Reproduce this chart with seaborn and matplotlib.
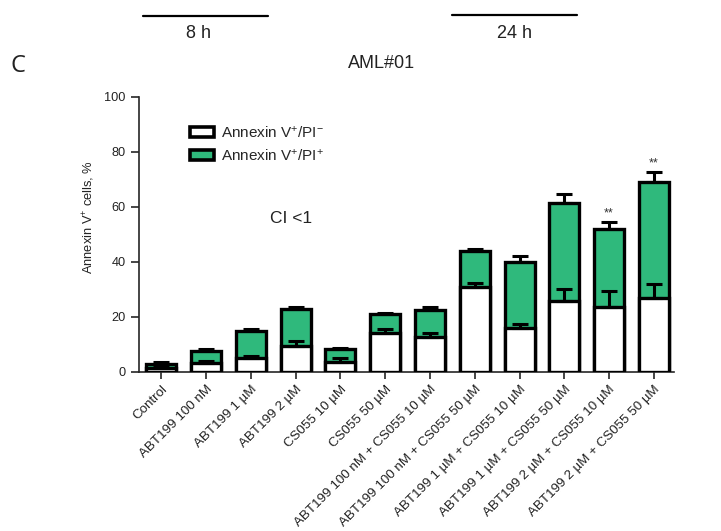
import numpy as np
import pandas as pd
import matplotlib
matplotlib.use('Agg')
import matplotlib.pyplot as plt
import seaborn as sns
from matplotlib.lines import Line2D
from matplotlib.patches import Patch

# data
groups = ['Control', 'ABT199 100 nM', 'ABT199 1 µM', 'ABT199 2 µM',
          'CS055 10 µM', 'CS055 50 µM',
          'ABT199 100 nM + CS055 10 µM', 'ABT199 100 nM + CS055 50 µM',
          'ABT199 1 µM + CS055 10 µM', 'ABT199 1 µM + CS055 50 µM',
          'ABT199 2 µM + CS055 10 µM', 'ABT199 2 µM + CS055 50 µM']
total = [2.9, 7.6, 14.9, 22.8, 8.2, 21.0, 22.5, 43.9, 39.8, 61.5, 51.9, 68.9]
total_err = [0.7, 0.6, 0.8, 0.7, 0.6, 0.6, 1.2, 0.9, 2.3, 3.0, 2.7, 3.7]
early = [1.6, 3.1, 5.0, 9.6, 3.5, 14.1, 12.8, 30.8, 15.9, 25.9, 23.7, 27.0]
early_err = [0.3, 0.9, 0.8, 1.5, 1.7, 1.6, 1.2, 1.4, 1.4, 4.1, 5.7, 5.1]
stars = ['', '', '', '', '', '', '', '', '', '', '**', '**']

green = '#2fb97c'
W, H = 721, 531

sns.set_style('ticks')
plt.rcParams['font.family'] = ['Liberation Sans', 'DejaVu Sans']
plt.rcParams['mathtext.fontset'] = 'custom'
plt.rcParams['mathtext.rm'] = 'Liberation Sans'
plt.rcParams['mathtext.it'] = 'Liberation Sans'

df = pd.DataFrame({'group': groups, 'total': total, 'early': early})

fig = plt.figure(figsize=(7.21, 5.31), dpi=100)
ax = fig.add_axes([139 / W, 1 - 372 / H, 535 / W, 275.3 / H])

x = np.arange(len(groups))
ax.errorbar(x, total, yerr=[np.zeros(len(x)), total_err], fmt='none',
            ecolor='black', elinewidth=2.2, capsize=5.6, capthick=2.2, zorder=1)
sns.barplot(data=df, x='group', y='total', color=green, saturation=1,
            edgecolor='black', linewidth=2.4, width=0.67, ax=ax, zorder=2)
sns.barplot(data=df, x='group', y='early', color='white', saturation=1,
            edgecolor='black', linewidth=2.4, width=0.67, ax=ax, zorder=3)
ax.errorbar(x, early, yerr=[np.zeros(len(x)), early_err], fmt='none',
            ecolor='black', elinewidth=2.2, capsize=5.6, capthick=2.2, zorder=4)

for i, s in enumerate(stars):
    if s:
        ax.text(i, total[i] + total_err[i] + 0.8, s, ha='center', va='bottom',
                fontsize=9, color='#333333')

ax.set_xlim(-0.5, 11.45)
ax.set_ylim(0, 100)
ax.set_yticks([0, 20, 40, 60, 80, 100])
ax.set_xlabel('')
ax.set_ylabel('Annexin V$^{+}$ cells, %', fontsize=9.3, color='#222222')
ax.yaxis.set_label_coords(-0.079, 0.563)
ax.set_xticks(x)
ax.set_xticklabels(groups, rotation=45, ha='right', rotation_mode='anchor',
                   fontsize=9.6, color='#222222')
ax.tick_params(axis='y', labelsize=9.2, labelcolor='#222222', length=5.8, width=1.2, pad=4)
ax.tick_params(axis='x', length=5.2, width=1.2, pad=3)
sns.despine(ax=ax)
for sp in ['left', 'bottom']:
    ax.spines[sp].set_linewidth(1.2)

handles = [Patch(facecolor='white', edgecolor='black', linewidth=2.6),
           Patch(facecolor=green, edgecolor='black', linewidth=2.6)]
labels = ['Annexin V$^{+}$/PI$^{-}$', 'Annexin V$^{+}$/PI$^{+}$']
fig.legend(handles, labels, loc='upper left', bbox_to_anchor=(190 / W, 1 - 124.5 / H),
           frameon=False, fontsize=11, handlelength=1.6, handleheight=0.65,
           labelspacing=0.45, handletextpad=0.45, borderpad=0, borderaxespad=0)

ax.text(0.284, 0.557, 'CI <1', transform=ax.transAxes, fontsize=12.5,
        ha='center', va='center', color='#222222')

# header decorations
fig.add_artist(Line2D([143 / W, 268 / W], [1 - 15.7 / H] * 2, color='black', lw=1.6))
fig.add_artist(Line2D([452 / W, 577 / W], [1 - 15 / H] * 2, color='black', lw=1.6))
fig.text(198.5 / W, 1 - 33 / H, '8 h', ha='center', va='center', fontsize=13, color='#222222')
fig.text(514.5 / W, 1 - 33 / H, '24 h', ha='center', va='center', fontsize=13, color='#222222')
fig.text(11 / W, 1 - 66 / H, 'C', ha='left', va='center', fontsize=17,
         family=['Open Sans', 'DejaVu Sans'], color='#222222')
fig.text(382 / W, 1 - 63 / H, 'AML#01', ha='center', va='center', fontsize=13, color='#222222')

plt.savefig('out.png', dpi=100)
plt.close()
